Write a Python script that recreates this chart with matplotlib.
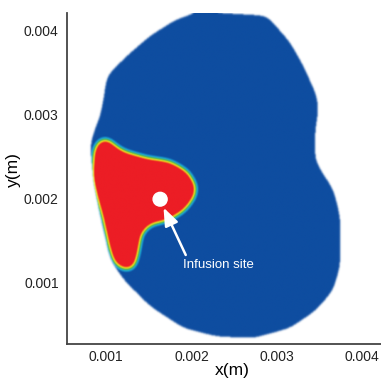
import numpy as np
import matplotlib
matplotlib.use("Agg")
import matplotlib.pyplot as plt
from matplotlib.path import Path
from matplotlib.colors import LinearSegmentedColormap

# outline of the tissue (blue region), mm
blob_x = [2.102, 2.884, 3.157, 3.313, 3.470, 3.489, 3.450, 3.450, 3.509, 3.665, 3.743, 3.743,
          3.665, 3.470, 3.157, 2.727, 2.298, 1.906, 1.516, 1.203, 1.047, 0.930, 0.851, 0.812,
          0.851, 0.930, 0.968, 1.008, 1.243, 1.516, 1.829]
blob_y = [4.217, 4.170, 3.852, 3.572, 3.214, 3.055, 2.777, 2.458, 2.338, 2.099, 1.780, 1.183,
          0.904, 0.665, 0.447, 0.327, 0.346, 0.447, 0.705, 1.024, 1.263, 1.780, 2.179, 2.616,
          2.777, 2.975, 3.174, 3.453, 3.692, 3.931, 4.130]

# outline of the high concentration (red) region, mm
red_x = [1.008, 1.086, 1.203, 1.477, 1.750, 1.946, 2.043, 2.024, 1.906, 1.711, 1.516, 1.399,
         1.360, 1.320, 1.243, 1.106, 1.047, 0.968, 0.891, 0.851, 0.871, 0.930]
red_y = [2.697, 2.616, 2.538, 2.458, 2.418, 2.299, 2.139, 2.019, 1.860, 1.741, 1.701, 1.582,
         1.343, 1.183, 1.143, 1.223, 1.422, 1.780, 2.060, 2.258, 2.577, 2.677]

site_x, site_y = 1.633e-3, 1.988e-3
label_x, label_y = 1.903e-3, 1.203e-3

xlim = (0.000543, 0.00422)
ylim = (0.00026, 0.00421)
ticks = [0.001, 0.002, 0.003, 0.004]
tick_labels = ["0.001", "0.002", "0.003", "0.004"]

fam = ["Liberation Sans Narrow", "Liberation Sans", "DejaVu Sans"]

scale = 1e-3
blob = Path(np.c_[blob_x, blob_y] * scale)
red = Path(np.c_[red_x, red_y] * scale)

n = 500
gx = np.linspace(xlim[0], xlim[1], n)
gy = np.linspace(ylim[0], ylim[1], n)
X, Y = np.meshgrid(gx, gy)
pts = np.c_[X.ravel(), Y.ravel()]
m_blob = blob.contains_points(pts).reshape(n, n).astype(float)
m_red = red.contains_points(pts).reshape(n, n).astype(float)


def blur(a, sigma):
    r = int(3 * sigma) + 1
    k = np.exp(-0.5 * (np.arange(-r, r + 1) / sigma) ** 2)
    k /= k.sum()
    a = np.apply_along_axis(lambda v: np.convolve(np.pad(v, r, mode="edge"), k, "valid"), 0, a)
    a = np.apply_along_axis(lambda v: np.convolve(np.pad(v, r, mode="edge"), k, "valid"), 1, a)
    return a


# round off the polygon corners
m_blob = (blur(m_blob, 9) > 0.5).astype(float)
m_red = (blur(m_red, 6) > 0.5).astype(float)

conc = blur(m_red, 5.5)
alpha = np.clip(blur(m_blob, 1.3), 0, 1)

cmap = LinearSegmentedColormap.from_list("conc", [
    (0.0, "#0d4ca0"), (0.06, "#0d4ca0"), (0.16, "#1aa6d6"), (0.28, "#5cb84a"),
    (0.40, "#e6e21e"), (0.50, "#f08020"), (0.60, "#ec1c24"), (1.0, "#ec1c24")])
rgba = cmap(np.clip(conc, 0, 1))
rgba[..., 3] = alpha

fig = plt.figure(figsize=(3.81, 3.79), dpi=100)
ax = fig.add_axes([0.176, 0.092, 0.824, 0.874])
ax.imshow(rgba, origin="lower", extent=(xlim[0], xlim[1], ylim[0], ylim[1]),
          aspect="auto", interpolation="bilinear")
ax.add_patch(plt.Circle((site_x, site_y), 0.000082, color="white", zorder=3))
ax.annotate("", xy=(site_x + 0.00004, site_y - 0.0001), xytext=(label_x + 0.00003, label_y + 0.00012),
            arrowprops=dict(arrowstyle="-|>,head_length=0.9,head_width=0.35", color="white",
                            lw=1.8, mutation_scale=12, shrinkA=0, shrinkB=0), zorder=4)
ax.text(label_x, label_y, "Infusion site", color="white", fontsize=9.5,
        family=fam, va="center", ha="left", zorder=4)

ax.set_xlim(xlim)
ax.set_ylim(ylim)
ax.set_xticks(ticks)
ax.set_yticks(ticks)
ax.set_xticklabels(tick_labels)
ax.set_yticklabels(tick_labels)
for lab in ax.get_xticklabels() + ax.get_yticklabels():
    lab.set_family(fam)
    lab.set_fontsize(10)
    lab.set_color("#222222")
ax.tick_params(length=0)
ax.tick_params(axis="x", pad=4)
ax.tick_params(axis="y", pad=6)
ax.set_xlabel("x(m)", fontsize=12.5, family=fam)
ax.set_ylabel("y(m)", fontsize=12.5, family=fam)
ax.xaxis.set_label_coords(0.525, -0.058)
ax.yaxis.set_label_coords(-0.148, 0.526)
for s in ["top", "right"]:
    ax.spines[s].set_visible(False)
for s in ["left", "bottom"]:
    ax.spines[s].set_color("#444444")
    ax.spines[s].set_linewidth(1.3)

fig.savefig("out.png", dpi=100)
